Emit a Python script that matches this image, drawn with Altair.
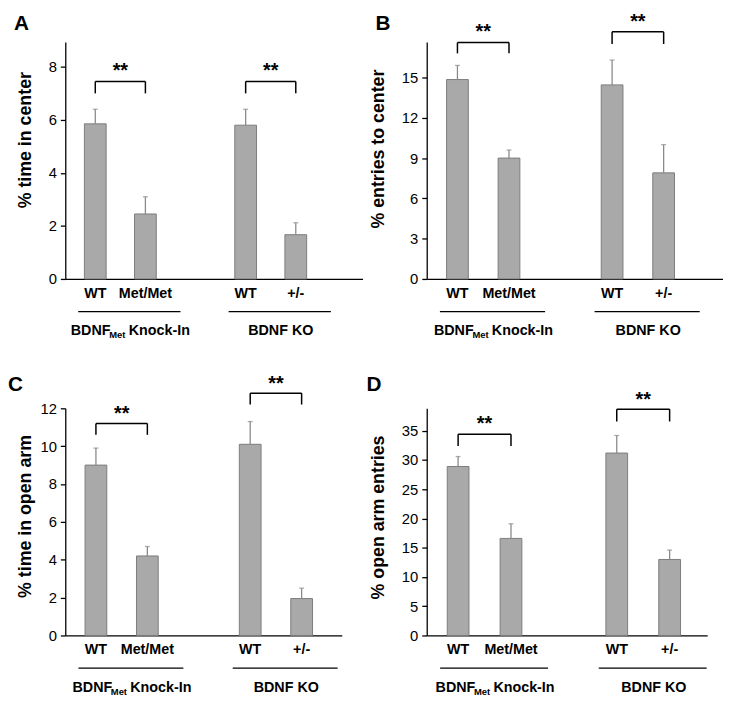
import altair as alt
import pandas as pd

FONT = "Liberation Sans"

# ---------------- data ----------------
conditions = ["WT", "Met/Met", "WT", "+/-"]
cond_group = [0, 0, 1, 1]
group_main = ["BDNF", "BDNF KO"]
group_sub = ["Met", ""]
group_rest = ["Knock-In", ""]
sig_labels = ["**", "**"]

panel_letters = ["A", "B", "C", "D"]
y_titles = ["% time in center", "% entries to  center", "% time in open arm", "% open arm entries"]
y_ticks = [
    [0, 2, 4, 6, 8],
    [0, 3, 6, 9, 12, 15],
    [0, 2, 4, 6, 8, 10, 12],
    [0, 5, 10, 15, 20, 25, 30, 35],
]
means = [
    [5.85, 2.45, 5.8, 1.67],
    [14.85, 9.0, 14.45, 7.9],
    [9.0, 4.2, 10.1, 1.95],
    [28.9, 16.6, 31.2, 13.0],
]
sems = [
    [0.55, 0.65, 0.6, 0.45],
    [1.05, 0.6, 1.85, 2.1],
    [0.9, 0.5, 1.2, 0.55],
    [1.7, 2.5, 3.0, 1.6],
]
bracket_top = [[7.45, 7.45], [17.6, 18.4], [11.2, 12.8], [34.4, 38.7]]
bracket_leg = [[7.0, 7.0], [16.8, 17.5], [10.6, 12.2], [32.4, 36.6]]
star_y = [[8.0, 8.0], [18.7, 19.4], [11.9, 13.5], [36.8, 41.0]]

# ---------------- layout / style ----------------
widths = [301, 300, 280, 284]
heights = [240, 240, 230, 230]
y_max = [8.94, 17.65, 12.0, 38.85]
steps = [52.5, 54.0, 54.0, 55.5]
title_pad = [6, 15, 6, 15]
title_y = [99, 108, 109, 110]
letter_dx = [-52, -52, -58, -61]
letter_dy = [-12, -12, -18, -18]
BAR_FILL = "#a9a9a9"
BAR_STROKE = "#7c7c7c"
ERR_COLOR = "#8a8a8a"

# Arial-bold advance widths (em) for text measuring
BOLD_W = {"B": .722, "D": .722, "N": .722, "F": .611, " ": .278, "K": .722, "n": .611,
          "o": .611, "c": .556, "k": .556, "-": .333, "I": .278, "M": .833, "e": .556,
          "t": .333, "O": .778}


def text_w(s, size):
    return sum(BOLD_W.get(ch, .6) for ch in s) * size


GL_SIZE = 14.5
SUB_SIZE = 9.5


def slot_positions():
    pos = []
    seen = {}
    for g in cond_group:
        i = seen.get(g, 0)
        seen[g] = i + 1
        pos.append(g * 3 + i + 0.5)
    return pos


def panel(k):
    W, H, step = widths[k], heights[k], steps[k]
    pos = slot_positions()
    df = pd.DataFrame({
        "pos": pos,
        "cond": conditions,
        "mean": means[k],
        "top": [m + s for m, s in zip(means[k], sems[k])],
    })

    rows = []
    for g in range(len(group_main)):
        gp = [p for p, cg in zip(pos, cond_group) if cg == g]
        x1, x2 = min(gp), max(gp)
        u1, u2 = x1 - 0.34, x2 + 0.70
        gc = (u1 + u2) / 2
        wm = text_w(group_main[g], GL_SIZE)
        ws = text_w(group_sub[g], SUB_SIZE)
        gap = text_w(" ", GL_SIZE) if group_rest[g] else 0
        wr = text_w(group_rest[g], GL_SIZE)
        left = gc - (wm + ws + gap + wr) / 2 / step
        rows.append({
            "x1": x1, "x2": x2, "xm": (x1 + x2) / 2,
            "top": bracket_top[k][g], "leg": bracket_leg[k][g], "star": star_y[k][g],
            "sig": sig_labels[g], "u1": u1, "u2": u2,
            "main": group_main[g], "sub": group_sub[g], "rest": group_rest[g],
            "main_x": left, "sub_x": left + wm / step,
            "rest_x": left + (wm + ws + gap) / step,
        })
    gdf = pd.DataFrame(rows)

    xs = alt.Scale(domain=[0, W / step], nice=False, zero=False)
    ys = alt.Scale(domain=[0, y_max[k]], nice=False)
    x_axis = alt.Axis(title=None, labels=False, ticks=False, grid=False,
                      domainColor="black", domainWidth=1.3)
    y_axis = alt.Axis(title=y_titles[k], values=y_ticks[k], grid=False, tickSize=5,
                      tickColor="black", tickWidth=1.3, domainColor="black", domainWidth=1.3,
                      labelFont=FONT, labelFontSize=15, labelColor="black", labelPadding=4,
                      labelOverlap=False,
                      titleFont=FONT, titleFontSize=18, titleFontWeight="bold",
                      titleColor="black", titlePadding=title_pad[k], titleY=title_y[k],
                      minExtent=25, maxExtent=25)

    def X(f):
        return alt.X(f, type="quantitative", scale=xs, axis=x_axis)

    def Y(f):
        return alt.Y(f, type="quantitative", scale=ys, axis=y_axis)

    base = alt.Chart(df)
    bars = base.mark_bar(size=22, fill=BAR_FILL, stroke=BAR_STROKE, strokeWidth=1).encode(
        x=X("pos"), y=Y("mean"))
    err = base.mark_rule(color=ERR_COLOR, strokeWidth=1.3).encode(
        x=X("pos"), y=Y("mean"), y2=alt.Y2("top"))
    cap = base.mark_tick(orient="horizontal", size=5, thickness=1.3, color=ERR_COLOR).encode(
        x=X("pos"), y=Y("top"))
    cond_text = base.mark_text(font=FONT, fontSize=14.5, fontWeight="bold", baseline="top",
                               color="black").encode(
        x=X("pos"), y=alt.value(H + 8), text="cond:N")

    gb = alt.Chart(gdf)
    br_h = gb.mark_rule(color="black", strokeWidth=1.5).encode(
        x=X("x1"), x2=alt.X2("x2"), y=Y("top"))
    br_l = gb.mark_rule(color="black", strokeWidth=1.5).encode(
        x=X("x1"), y=Y("top"), y2=alt.Y2("leg"))
    br_r = gb.mark_rule(color="black", strokeWidth=1.5).encode(
        x=X("x2"), y=Y("top"), y2=alt.Y2("leg"))
    stars = gb.mark_text(font=FONT, fontSize=20, fontWeight="bold", baseline="middle", dy=4,
                         color="black").encode(x=X("xm"), y=Y("star"), text="sig:N")
    underline = gb.mark_rule(color="black", strokeWidth=1.2).encode(
        x=X("u1"), x2=alt.X2("u2"), y=alt.value(H + 33))
    g_main = gb.mark_text(font=FONT, fontSize=GL_SIZE, fontWeight="bold", align="left",
                          baseline="middle", color="black").encode(
        x=X("main_x"), y=alt.value(H + 53), text="main:N")
    g_sub = gb.mark_text(font=FONT, fontSize=SUB_SIZE, fontWeight="bold", align="left",
                         baseline="middle", color="black").encode(
        x=X("sub_x"), y=alt.value(H + 57), text="sub:N")
    g_rest = gb.mark_text(font=FONT, fontSize=GL_SIZE, fontWeight="bold", align="left",
                          baseline="middle", color="black").encode(
        x=X("rest_x"), y=alt.value(H + 53), text="rest:N")

    letter = alt.Chart(pd.DataFrame({"letter": [panel_letters[k]]})).mark_text(
        font=FONT, fontSize=21, fontWeight="bold", align="left", baseline="alphabetic",
        color="black").encode(
        x=alt.value(letter_dx[k]), y=alt.value(letter_dy[k]), text="letter:N")

    return alt.layer(bars, err, cap, cond_text, br_h, br_l, br_r, stars, underline,
                     g_main, g_sub, g_rest, letter).properties(width=W, height=H)


chart = alt.concat(
    *[panel(k) for k in range(4)],
    columns=2,
    spacing={"row": 131, "column": 65},
    bounds="flush",
).properties(
    padding={"left": 0, "top": 0, "right": 0, "bottom": 0},
    background="white",
).configure_view(stroke=None).configure_axis(labelOverlap=False)

chart.save("out.html", embed_options={"renderer": "svg", "actions": False})
